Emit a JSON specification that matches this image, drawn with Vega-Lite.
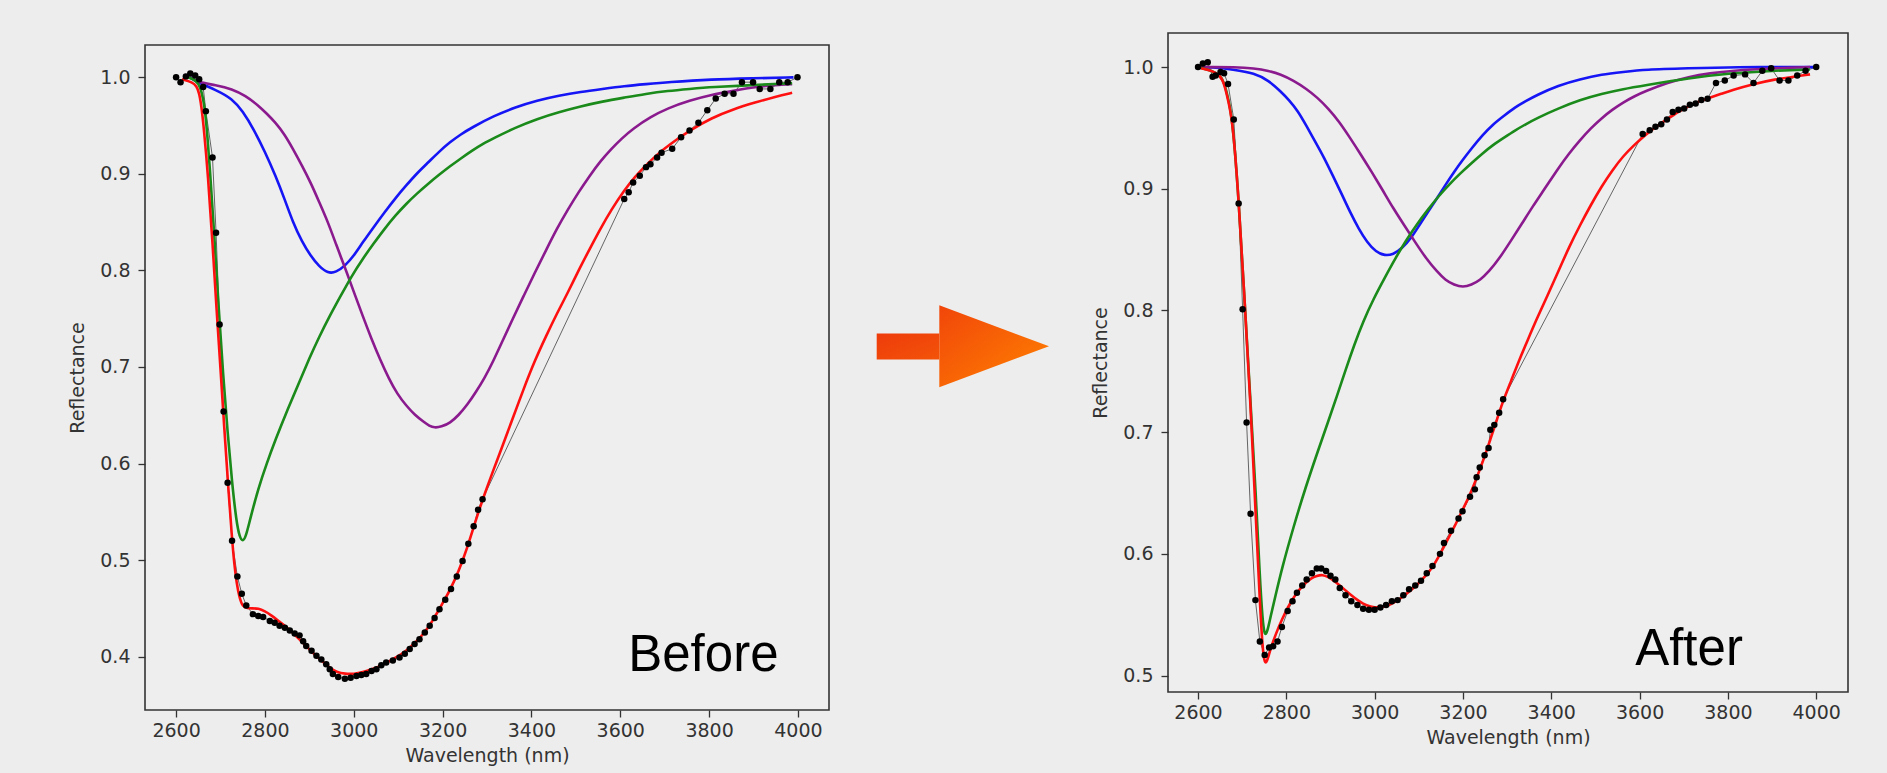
{
"$schema": "https://vega.github.io/schema/vega-lite/v6.json",
"background": "#ededed",
"padding": {"left": 67, "top": 32, "right": 40, "bottom": 20},
"spacing": 30,
"config": {
  "view": {"stroke": "#333333", "strokeWidth": 1.6, "fill": "#eeeeee"},
  "axis": {"domain": false, "grid": false, "tickColor": "#333333", "tickSize": 7, "tickWidth": 1.3, "labelFont": "DejaVu Sans", "labelFontSize": 19, "labelColor": "#333333", "titleFont": "DejaVu Sans", "titleFontSize": 19, "titleFontWeight": "normal", "titleColor": "#333333"},
  "axisX": {"labelPadding": 4, "titlePadding": 6},
  "axisY": {"labelPadding": 8, "titlePadding": 12}
},
"datasets": {
  "bData": [
    {"x":2600,"y":1.000},{"x":2610,"y":0.995},{"x":2622,"y":1.001},{"x":2632,"y":1.004},{"x":2643,"y":1.002},{"x":2652,"y":0.998},{"x":2661,"y":0.990},{"x":2667,"y":0.965},{"x":2682,"y":0.917},{"x":2690,"y":0.839},{"x":2698,"y":0.744},{"x":2707,"y":0.654},{"x":2716,"y":0.580},{"x":2726,"y":0.520},{"x":2738,"y":0.483},{"x":2748,"y":0.465},{"x":2758,"y":0.453},{"x":2773,"y":0.444},{"x":2785,"y":0.442},{"x":2796,"y":0.441},{"x":2811,"y":0.437},{"x":2822,"y":0.435},{"x":2833,"y":0.432},{"x":2845,"y":0.430},{"x":2856,"y":0.427},{"x":2867,"y":0.424},{"x":2878,"y":0.422},{"x":2886,"y":0.416},{"x":2893,"y":0.411},{"x":2905,"y":0.406},{"x":2916,"y":0.401},{"x":2927,"y":0.397},{"x":2938,"y":0.392},{"x":2946,"y":0.387},{"x":2953,"y":0.382},{"x":2965,"y":0.379},{"x":2980,"y":0.377},{"x":2993,"y":0.378},{"x":3006,"y":0.380},{"x":3017,"y":0.381},{"x":3028,"y":0.382},{"x":3040,"y":0.385},{"x":3051,"y":0.387},{"x":3062,"y":0.391},{"x":3073,"y":0.394},{"x":3088,"y":0.396},{"x":3103,"y":0.399},{"x":3115,"y":0.403},{"x":3126,"y":0.408},{"x":3137,"y":0.413},{"x":3148,"y":0.418},{"x":3160,"y":0.425},{"x":3171,"y":0.432},{"x":3182,"y":0.440},{"x":3193,"y":0.449},{"x":3206,"y":0.459},{"x":3219,"y":0.470},{"x":3232,"y":0.483},{"x":3245,"y":0.499},{"x":3258,"y":0.517},{"x":3270,"y":0.535},{"x":3280,"y":0.552},{"x":3290,"y":0.563},
    {"x":3609,"y":0.874},{"x":3619,"y":0.881},{"x":3629,"y":0.891},{"x":3644,"y":0.898},{"x":3658,"y":0.907},{"x":3668,"y":0.910},{"x":3683,"y":0.917},{"x":3693,"y":0.922},{"x":3717,"y":0.926},{"x":3737,"y":0.938},{"x":3756,"y":0.945},{"x":3776,"y":0.953},{"x":3796,"y":0.966},{"x":3815,"y":0.978},{"x":3835,"y":0.983},{"x":3855,"y":0.983},{"x":3874,"y":0.995},{"x":3899,"y":0.995},{"x":3914,"y":0.988},{"x":3938,"y":0.988},{"x":3958,"y":0.995},{"x":3977,"y":0.995},{"x":3999,"y":1.000}
  ],
  "bFit": [
    {"s":"blue","x":2632,"y":1.000},{"s":"blue","x":2647,"y":0.995},{"s":"blue","x":2690,"y":0.987},{"s":"blue","x":2726,"y":0.978},{"s":"blue","x":2750,"y":0.965},{"s":"blue","x":2775,"y":0.946},{"s":"blue","x":2800,"y":0.923},{"s":"blue","x":2824,"y":0.898},{"s":"blue","x":2845,"y":0.873},{"s":"blue","x":2863,"y":0.850},{"s":"blue","x":2883,"y":0.830},{"s":"blue","x":2903,"y":0.815},{"s":"blue","x":2922,"y":0.804},{"s":"blue","x":2942,"y":0.797},{"s":"blue","x":2960,"y":0.798},{"s":"blue","x":2981,"y":0.805},{"s":"blue","x":3000,"y":0.815},{"s":"blue","x":3020,"y":0.829},{"s":"blue","x":3045,"y":0.845},{"s":"blue","x":3069,"y":0.860},{"s":"blue","x":3094,"y":0.875},{"s":"blue","x":3118,"y":0.888},{"s":"blue","x":3143,"y":0.901},{"s":"blue","x":3168,"y":0.912},{"s":"blue","x":3192,"y":0.923},{"s":"blue","x":3217,"y":0.933},{"s":"blue","x":3241,"y":0.941},{"s":"blue","x":3266,"y":0.948},{"s":"blue","x":3315,"y":0.960},{"s":"blue","x":3364,"y":0.969},{"s":"blue","x":3413,"y":0.976},{"s":"blue","x":3462,"y":0.981},{"s":"blue","x":3511,"y":0.985},{"s":"blue","x":3560,"y":0.988},{"s":"blue","x":3609,"y":0.991},{"s":"blue","x":3658,"y":0.993},{"s":"blue","x":3707,"y":0.995},{"s":"blue","x":3806,"y":0.998},{"s":"blue","x":3900,"y":0.999},{"s":"blue","x":3990,"y":1.000},
    {"s":"purple","x":2632,"y":1.000},{"s":"purple","x":2647,"y":0.995},{"s":"purple","x":2690,"y":0.992},{"s":"purple","x":2726,"y":0.988},{"s":"purple","x":2756,"y":0.981},{"s":"purple","x":2785,"y":0.971},{"s":"purple","x":2805,"y":0.962},{"s":"purple","x":2824,"y":0.953},{"s":"purple","x":2844,"y":0.941},{"s":"purple","x":2863,"y":0.926},{"s":"purple","x":2883,"y":0.909},{"s":"purple","x":2903,"y":0.891},{"s":"purple","x":2922,"y":0.871},{"s":"purple","x":2942,"y":0.850},{"s":"purple","x":2961,"y":0.826},{"s":"purple","x":2981,"y":0.802},{"s":"purple","x":3000,"y":0.778},{"s":"purple","x":3020,"y":0.753},{"s":"purple","x":3040,"y":0.729},{"s":"purple","x":3060,"y":0.707},{"s":"purple","x":3079,"y":0.688},{"s":"purple","x":3098,"y":0.672},{"s":"purple","x":3118,"y":0.660},{"s":"purple","x":3138,"y":0.650},{"s":"purple","x":3158,"y":0.643},{"s":"purple","x":3170,"y":0.639},{"s":"purple","x":3182,"y":0.637},{"s":"purple","x":3197,"y":0.638},{"s":"purple","x":3217,"y":0.642},{"s":"purple","x":3236,"y":0.650},{"s":"purple","x":3256,"y":0.661},{"s":"purple","x":3275,"y":0.674},{"s":"purple","x":3295,"y":0.689},{"s":"purple","x":3314,"y":0.706},{"s":"purple","x":3334,"y":0.726},{"s":"purple","x":3358,"y":0.750},{"s":"purple","x":3383,"y":0.774},{"s":"purple","x":3408,"y":0.798},{"s":"purple","x":3433,"y":0.821},{"s":"purple","x":3457,"y":0.843},{"s":"purple","x":3482,"y":0.863},{"s":"purple","x":3506,"y":0.881},{"s":"purple","x":3531,"y":0.898},{"s":"purple","x":3555,"y":0.913},{"s":"purple","x":3580,"y":0.926},{"s":"purple","x":3604,"y":0.937},{"s":"purple","x":3629,"y":0.947},{"s":"purple","x":3668,"y":0.959},{"s":"purple","x":3707,"y":0.968},{"s":"purple","x":3756,"y":0.976},{"s":"purple","x":3806,"y":0.982},{"s":"purple","x":3855,"y":0.986},{"s":"purple","x":3904,"y":0.990},{"s":"purple","x":3950,"y":0.992},{"s":"purple","x":3987,"y":0.993},
    {"s":"green","x":2627,"y":1.000},{"s":"green","x":2645,"y":0.997},{"s":"green","x":2655,"y":0.990},{"s":"green","x":2662,"y":0.975},{"s":"green","x":2667,"y":0.960},{"s":"green","x":2677,"y":0.900},{"s":"green","x":2687,"y":0.829},{"s":"green","x":2696,"y":0.760},{"s":"green","x":2706,"y":0.691},{"s":"green","x":2716,"y":0.632},{"s":"green","x":2726,"y":0.580},{"s":"green","x":2736,"y":0.539},{"s":"green","x":2743,"y":0.524},{"s":"green","x":2750,"y":0.519},{"s":"green","x":2757,"y":0.524},{"s":"green","x":2767,"y":0.543},{"s":"green","x":2785,"y":0.574},{"s":"green","x":2804,"y":0.600},{"s":"green","x":2824,"y":0.625},{"s":"green","x":2850,"y":0.655},{"s":"green","x":2878,"y":0.685},{"s":"green","x":2900,"y":0.709},{"s":"green","x":2922,"y":0.731},{"s":"green","x":2946,"y":0.753},{"s":"green","x":2971,"y":0.774},{"s":"green","x":2995,"y":0.794},{"s":"green","x":3020,"y":0.812},{"s":"green","x":3045,"y":0.828},{"s":"green","x":3069,"y":0.843},{"s":"green","x":3094,"y":0.857},{"s":"green","x":3118,"y":0.869},{"s":"green","x":3143,"y":0.880},{"s":"green","x":3168,"y":0.890},{"s":"green","x":3192,"y":0.899},{"s":"green","x":3217,"y":0.908},{"s":"green","x":3241,"y":0.916},{"s":"green","x":3266,"y":0.924},{"s":"green","x":3290,"y":0.931},{"s":"green","x":3315,"y":0.937},{"s":"green","x":3364,"y":0.948},{"s":"green","x":3413,"y":0.957},{"s":"green","x":3462,"y":0.964},{"s":"green","x":3511,"y":0.970},{"s":"green","x":3560,"y":0.975},{"s":"green","x":3609,"y":0.979},{"s":"green","x":3658,"y":0.983},{"s":"green","x":3707,"y":0.986},{"s":"green","x":3756,"y":0.988},{"s":"green","x":3806,"y":0.990},{"s":"green","x":3900,"y":0.992},{"s":"green","x":3987,"y":0.994},
    {"s":"red","x":2613,"y":0.998},{"s":"red","x":2637,"y":0.995},{"s":"red","x":2646,"y":0.991},{"s":"red","x":2652,"y":0.984},{"s":"red","x":2657,"y":0.970},{"s":"red","x":2662,"y":0.950},{"s":"red","x":2672,"y":0.898},{"s":"red","x":2682,"y":0.829},{"s":"red","x":2691,"y":0.760},{"s":"red","x":2701,"y":0.691},{"s":"red","x":2708,"y":0.640},{"s":"red","x":2716,"y":0.585},{"s":"red","x":2726,"y":0.521},{"s":"red","x":2731,"y":0.496},{"s":"red","x":2736,"y":0.477},{"s":"red","x":2743,"y":0.460},{"s":"red","x":2750,"y":0.452},{"s":"red","x":2760,"y":0.450},{"s":"red","x":2772,"y":0.450},{"s":"red","x":2785,"y":0.450},{"s":"red","x":2800,"y":0.447},{"s":"red","x":2814,"y":0.443},{"s":"red","x":2833,"y":0.436},{"s":"red","x":2853,"y":0.429},{"s":"red","x":2873,"y":0.420},{"s":"red","x":2893,"y":0.411},{"s":"red","x":2912,"y":0.402},{"s":"red","x":2932,"y":0.394},{"s":"red","x":2947,"y":0.388},{"s":"red","x":2961,"y":0.384},{"s":"red","x":2981,"y":0.382},{"s":"red","x":3001,"y":0.382},{"s":"red","x":3020,"y":0.384},{"s":"red","x":3040,"y":0.387},{"s":"red","x":3060,"y":0.390},{"s":"red","x":3079,"y":0.395},{"s":"red","x":3099,"y":0.400},{"s":"red","x":3118,"y":0.406},{"s":"red","x":3138,"y":0.414},{"s":"red","x":3158,"y":0.424},{"s":"red","x":3178,"y":0.437},{"s":"red","x":3197,"y":0.453},{"s":"red","x":3216,"y":0.468},{"s":"red","x":3236,"y":0.488},{"s":"red","x":3256,"y":0.513},{"s":"red","x":3275,"y":0.542},{"s":"red","x":3295,"y":0.569},{"s":"red","x":3315,"y":0.594},{"s":"red","x":3334,"y":0.617},{"s":"red","x":3354,"y":0.642},{"s":"red","x":3383,"y":0.678},{"s":"red","x":3408,"y":0.707},{"s":"red","x":3433,"y":0.732},{"s":"red","x":3457,"y":0.755},{"s":"red","x":3482,"y":0.777},{"s":"red","x":3506,"y":0.800},{"s":"red","x":3531,"y":0.822},{"s":"red","x":3555,"y":0.843},{"s":"red","x":3580,"y":0.863},{"s":"red","x":3609,"y":0.883},{"s":"red","x":3633,"y":0.897},{"s":"red","x":3658,"y":0.909},{"s":"red","x":3683,"y":0.920},{"s":"red","x":3707,"y":0.929},{"s":"red","x":3756,"y":0.945},{"s":"red","x":3806,"y":0.958},{"s":"red","x":3855,"y":0.967},{"s":"red","x":3904,"y":0.974},{"s":"red","x":3950,"y":0.980},{"s":"red","x":3987,"y":0.984}
  ],
  "aData": [
    {"x":2600,"y":1.000},{"x":2611,"y":1.003},{"x":2622,"y":1.004},{"x":2633,"y":0.992},{"x":2640,"y":0.993},{"x":2651,"y":0.996},{"x":2659,"y":0.995},{"x":2668,"y":0.986},{"x":2681,"y":0.957},{"x":2692,"y":0.888},{"x":2701,"y":0.801},{"x":2710,"y":0.708},{"x":2719,"y":0.633},{"x":2730,"y":0.562},{"x":2740,"y":0.528},{"x":2751,"y":0.517},{"x":2761,"y":0.523},{"x":2770,"y":0.524},{"x":2780,"y":0.528},{"x":2790,"y":0.540},{"x":2803,"y":0.553},{"x":2814,"y":0.561},{"x":2824,"y":0.568},{"x":2836,"y":0.574},{"x":2846,"y":0.579},{"x":2858,"y":0.584},{"x":2869,"y":0.588},{"x":2879,"y":0.588},{"x":2890,"y":0.586},{"x":2900,"y":0.582},{"x":2911,"y":0.579},{"x":2921,"y":0.572},{"x":2934,"y":0.566},{"x":2947,"y":0.561},{"x":2961,"y":0.558},{"x":2974,"y":0.555},{"x":2987,"y":0.554},{"x":3000,"y":0.554},{"x":3013,"y":0.556},{"x":3026,"y":0.558},{"x":3039,"y":0.561},{"x":3052,"y":0.562},{"x":3065,"y":0.566},{"x":3078,"y":0.571},{"x":3092,"y":0.574},{"x":3105,"y":0.578},{"x":3118,"y":0.584},{"x":3131,"y":0.590},{"x":3148,"y":0.600},{"x":3157,"y":0.609},{"x":3173,"y":0.619},{"x":3190,"y":0.629},{"x":3199,"y":0.635},{"x":3216,"y":0.647},{"x":3227,"y":0.653},{"x":3231,"y":0.663},{"x":3238,"y":0.671},{"x":3249,"y":0.681},{"x":3258,"y":0.687},{"x":3262,"y":0.702},{"x":3271,"y":0.706},{"x":3282,"y":0.716},{"x":3291,"y":0.727},
    {"x":3607,"y":0.945},{"x":3623,"y":0.948},{"x":3636,"y":0.951},{"x":3649,"y":0.953},{"x":3662,"y":0.957},{"x":3675,"y":0.963},{"x":3688,"y":0.965},{"x":3701,"y":0.966},{"x":3714,"y":0.969},{"x":3727,"y":0.970},{"x":3740,"y":0.973},{"x":3754,"y":0.974},{"x":3773,"y":0.987},{"x":3793,"y":0.989},{"x":3813,"y":0.993},{"x":3839,"y":0.994},{"x":3858,"y":0.987},{"x":3878,"y":0.997},{"x":3898,"y":0.999},{"x":3917,"y":0.989},{"x":3937,"y":0.989},{"x":3957,"y":0.993},{"x":3976,"y":0.997},{"x":4000,"y":1.000}
  ],
  "aFit": [
    {"s":"blue","x":2600,"y":1.000},{"s":"blue","x":2630,"y":1.000},{"s":"blue","x":2680,"y":0.998},{"s":"blue","x":2728,"y":0.995},{"s":"blue","x":2760,"y":0.989},{"s":"blue","x":2787,"y":0.980},{"s":"blue","x":2806,"y":0.973},{"s":"blue","x":2826,"y":0.964},{"s":"blue","x":2845,"y":0.952},{"s":"blue","x":2865,"y":0.939},{"s":"blue","x":2885,"y":0.926},{"s":"blue","x":2905,"y":0.911},{"s":"blue","x":2925,"y":0.896},{"s":"blue","x":2944,"y":0.881},{"s":"blue","x":2964,"y":0.867},{"s":"blue","x":2983,"y":0.856},{"s":"blue","x":3003,"y":0.848},{"s":"blue","x":3023,"y":0.845},{"s":"blue","x":3042,"y":0.846},{"s":"blue","x":3062,"y":0.851},{"s":"blue","x":3082,"y":0.859},{"s":"blue","x":3101,"y":0.870},{"s":"blue","x":3121,"y":0.881},{"s":"blue","x":3141,"y":0.892},{"s":"blue","x":3160,"y":0.903},{"s":"blue","x":3180,"y":0.914},{"s":"blue","x":3200,"y":0.924},{"s":"blue","x":3219,"y":0.933},{"s":"blue","x":3244,"y":0.944},{"s":"blue","x":3268,"y":0.953},{"s":"blue","x":3293,"y":0.960},{"s":"blue","x":3318,"y":0.967},{"s":"blue","x":3342,"y":0.972},{"s":"blue","x":3367,"y":0.977},{"s":"blue","x":3416,"y":0.985},{"s":"blue","x":3465,"y":0.990},{"s":"blue","x":3514,"y":0.994},{"s":"blue","x":3563,"y":0.996},{"s":"blue","x":3612,"y":0.998},{"s":"blue","x":3711,"y":0.999},{"s":"blue","x":3809,"y":1.000},{"s":"blue","x":3996,"y":1.000},
    {"s":"purple","x":2600,"y":1.000},{"s":"purple","x":2630,"y":1.000},{"s":"purple","x":2680,"y":1.000},{"s":"purple","x":2728,"y":0.999},{"s":"purple","x":2760,"y":0.997},{"s":"purple","x":2787,"y":0.994},{"s":"purple","x":2816,"y":0.989},{"s":"purple","x":2846,"y":0.982},{"s":"purple","x":2870,"y":0.975},{"s":"purple","x":2895,"y":0.966},{"s":"purple","x":2920,"y":0.955},{"s":"purple","x":2944,"y":0.942},{"s":"purple","x":2969,"y":0.928},{"s":"purple","x":2993,"y":0.914},{"s":"purple","x":3018,"y":0.899},{"s":"purple","x":3042,"y":0.884},{"s":"purple","x":3067,"y":0.870},{"s":"purple","x":3092,"y":0.856},{"s":"purple","x":3116,"y":0.843},{"s":"purple","x":3141,"y":0.832},{"s":"purple","x":3160,"y":0.825},{"s":"purple","x":3180,"y":0.821},{"s":"purple","x":3200,"y":0.819},{"s":"purple","x":3219,"y":0.821},{"s":"purple","x":3239,"y":0.825},{"s":"purple","x":3259,"y":0.832},{"s":"purple","x":3283,"y":0.843},{"s":"purple","x":3308,"y":0.857},{"s":"purple","x":3333,"y":0.871},{"s":"purple","x":3357,"y":0.885},{"s":"purple","x":3387,"y":0.901},{"s":"purple","x":3416,"y":0.917},{"s":"purple","x":3440,"y":0.929},{"s":"purple","x":3465,"y":0.940},{"s":"purple","x":3490,"y":0.950},{"s":"purple","x":3514,"y":0.958},{"s":"purple","x":3538,"y":0.965},{"s":"purple","x":3563,"y":0.971},{"s":"purple","x":3588,"y":0.976},{"s":"purple","x":3612,"y":0.980},{"s":"purple","x":3662,"y":0.987},{"s":"purple","x":3711,"y":0.992},{"s":"purple","x":3760,"y":0.995},{"s":"purple","x":3809,"y":0.997},{"s":"purple","x":3900,"y":0.999},{"s":"purple","x":3986,"y":1.000},
    {"s":"green","x":2600,"y":1.000},{"s":"green","x":2633,"y":0.997},{"s":"green","x":2650,"y":0.993},{"s":"green","x":2659,"y":0.988},{"s":"green","x":2670,"y":0.972},{"s":"green","x":2679,"y":0.953},{"s":"green","x":2692,"y":0.892},{"s":"green","x":2705,"y":0.811},{"s":"green","x":2718,"y":0.730},{"s":"green","x":2731,"y":0.649},{"s":"green","x":2740,"y":0.580},{"s":"green","x":2746,"y":0.546},{"s":"green","x":2751,"y":0.532},{"s":"green","x":2757,"y":0.536},{"s":"green","x":2764,"y":0.548},{"s":"green","x":2777,"y":0.568},{"s":"green","x":2790,"y":0.588},{"s":"green","x":2816,"y":0.622},{"s":"green","x":2843,"y":0.654},{"s":"green","x":2870,"y":0.683},{"s":"green","x":2895,"y":0.709},{"s":"green","x":2915,"y":0.730},{"s":"green","x":2934,"y":0.751},{"s":"green","x":2954,"y":0.772},{"s":"green","x":2974,"y":0.791},{"s":"green","x":2998,"y":0.810},{"s":"green","x":3023,"y":0.827},{"s":"green","x":3047,"y":0.843},{"s":"green","x":3072,"y":0.858},{"s":"green","x":3096,"y":0.871},{"s":"green","x":3121,"y":0.883},{"s":"green","x":3145,"y":0.894},{"s":"green","x":3170,"y":0.904},{"s":"green","x":3195,"y":0.913},{"s":"green","x":3219,"y":0.921},{"s":"green","x":3244,"y":0.929},{"s":"green","x":3268,"y":0.936},{"s":"green","x":3293,"y":0.942},{"s":"green","x":3318,"y":0.948},{"s":"green","x":3342,"y":0.953},{"s":"green","x":3367,"y":0.958},{"s":"green","x":3416,"y":0.966},{"s":"green","x":3465,"y":0.973},{"s":"green","x":3514,"y":0.978},{"s":"green","x":3563,"y":0.982},{"s":"green","x":3612,"y":0.985},{"s":"green","x":3711,"y":0.991},{"s":"green","x":3809,"y":0.995},{"s":"green","x":3900,"y":0.997},{"s":"green","x":3986,"y":0.998},
    {"s":"red","x":2607,"y":0.999},{"s":"red","x":2633,"y":0.997},{"s":"red","x":2650,"y":0.993},{"s":"red","x":2659,"y":0.987},{"s":"red","x":2670,"y":0.970},{"s":"red","x":2679,"y":0.953},{"s":"red","x":2692,"y":0.892},{"s":"red","x":2705,"y":0.811},{"s":"red","x":2718,"y":0.730},{"s":"red","x":2731,"y":0.629},{"s":"red","x":2740,"y":0.560},{"s":"red","x":2746,"y":0.523},{"s":"red","x":2751,"y":0.509},{"s":"red","x":2757,"y":0.512},{"s":"red","x":2764,"y":0.522},{"s":"red","x":2777,"y":0.535},{"s":"red","x":2790,"y":0.546},{"s":"red","x":2803,"y":0.556},{"s":"red","x":2816,"y":0.564},{"s":"red","x":2830,"y":0.571},{"s":"red","x":2843,"y":0.576},{"s":"red","x":2856,"y":0.580},{"s":"red","x":2869,"y":0.582},{"s":"red","x":2882,"y":0.583},{"s":"red","x":2895,"y":0.581},{"s":"red","x":2908,"y":0.578},{"s":"red","x":2921,"y":0.574},{"s":"red","x":2934,"y":0.570},{"s":"red","x":2947,"y":0.566},{"s":"red","x":2961,"y":0.562},{"s":"red","x":2974,"y":0.559},{"s":"red","x":2987,"y":0.557},{"s":"red","x":3000,"y":0.556},{"s":"red","x":3013,"y":0.556},{"s":"red","x":3026,"y":0.557},{"s":"red","x":3039,"y":0.559},{"s":"red","x":3052,"y":0.562},{"s":"red","x":3065,"y":0.565},{"s":"red","x":3078,"y":0.569},{"s":"red","x":3092,"y":0.573},{"s":"red","x":3105,"y":0.578},{"s":"red","x":3118,"y":0.583},{"s":"red","x":3131,"y":0.589},{"s":"red","x":3144,"y":0.597},{"s":"red","x":3157,"y":0.606},{"s":"red","x":3170,"y":0.615},{"s":"red","x":3183,"y":0.624},{"s":"red","x":3196,"y":0.634},{"s":"red","x":3210,"y":0.644},{"s":"red","x":3223,"y":0.655},{"s":"red","x":3236,"y":0.667},{"s":"red","x":3249,"y":0.680},{"s":"red","x":3262,"y":0.694},{"s":"red","x":3275,"y":0.708},{"s":"red","x":3288,"y":0.723},{"s":"red","x":3310,"y":0.743},{"s":"red","x":3327,"y":0.759},{"s":"red","x":3347,"y":0.776},{"s":"red","x":3367,"y":0.793},{"s":"red","x":3391,"y":0.812},{"s":"red","x":3416,"y":0.832},{"s":"red","x":3440,"y":0.852},{"s":"red","x":3465,"y":0.870},{"s":"red","x":3490,"y":0.887},{"s":"red","x":3514,"y":0.902},{"s":"red","x":3538,"y":0.915},{"s":"red","x":3563,"y":0.927},{"s":"red","x":3588,"y":0.936},{"s":"red","x":3612,"y":0.944},{"s":"red","x":3637,"y":0.951},{"s":"red","x":3662,"y":0.957},{"s":"red","x":3686,"y":0.963},{"s":"red","x":3711,"y":0.968},{"s":"red","x":3735,"y":0.972},{"s":"red","x":3760,"y":0.975},{"s":"red","x":3785,"y":0.978},{"s":"red","x":3809,"y":0.981},{"s":"red","x":3858,"y":0.986},{"s":"red","x":3907,"y":0.990},{"s":"red","x":3950,"y":0.992},{"s":"red","x":3986,"y":0.994}
  ]
},
"hconcat": [
  {
    "spacing": 0,
    "vconcat": [
      {"width": 684, "height": 11, "view": {"stroke": null, "fill": null}, "data": {"values": []}, "mark": "rect"},
      {
        "width": 684, "height": 665,
        "encoding": {
          "x": {"field": "x", "type": "quantitative", "scale": {"domain": [2530, 4070], "nice": false, "zero": false}, "axis": {"title": "Wavelength (nm)", "values": [2600,2800,3000,3200,3400,3600,3800,4000], "format": "d"}},
          "y": {"field": "y", "type": "quantitative", "scale": {"domain": [0.3447, 1.0335], "nice": false, "zero": false}, "axis": {"title": "Reflectance", "values": [0.4,0.5,0.6,0.7,0.8,0.9,1.0], "format": ".1f"}}
        },
        "layer": [
          {"data": {"name": "bData"}, "mark": {"type": "line", "color": "#555555", "strokeWidth": 0.9}},
          {"data": {"name": "bFit"}, "mark": {"type": "line", "strokeWidth": 2.6, "interpolate": "basis"}, "encoding": {"color": {"field": "s", "type": "nominal", "scale": {"domain": ["blue","purple","green","red"], "range": ["#1515f5","#8a1a8e","#1a8a1a","#ff1010"]}, "legend": null}}},
          {"data": {"name": "bData"}, "mark": {"type": "point", "filled": true, "color": "#000000", "size": 42, "opacity": 1}},
          {"data": {"values": [{"x": 3618, "y": 0.3855, "label": "Before"}]}, "mark": {"type": "text", "align": "left", "baseline": "alphabetic", "font": "Liberation Sans", "fontSize": 51, "color": "#000000"}, "encoding": {"text": {"field": "label"}}}
        ]
      }
    ]
  },
  {
    "width": 200, "height": 659,
    "view": {"stroke": null, "fill": null},
    "layer": [
      {"data": {"values": [{"x": 0.0835, "x2": 0.3965, "y": 0.5439, "y2": 0.5044}]},
       "mark": {"type": "rect", "color": {"gradient": "linear", "x1": 0, "y1": 0, "x2": 1, "y2": 1, "stops": [{"offset": 0, "color": "#ee3b0b"}, {"offset": 1, "color": "#f35409"}]}},
       "encoding": {"x": {"field": "x", "type": "quantitative", "scale": {"domain": [0, 1], "nice": false}, "axis": null}, "x2": {"field": "x2"}, "y": {"field": "y", "type": "quantitative", "scale": {"domain": [0, 1], "nice": false}, "axis": null}, "y2": {"field": "y2"}}},
      {"data": {"values": [{"x": 0.3965, "y": 0.5868, "y2": 0.4624}, {"x": 0.945, "y": 0.5246, "y2": 0.5246}]},
       "mark": {"type": "area", "color": {"gradient": "linear", "x1": 0, "y1": 0, "x2": 1, "y2": 1, "stops": [{"offset": 0, "color": "#f1460a"}, {"offset": 1, "color": "#ff8200"}]}},
       "encoding": {"x": {"field": "x", "type": "quantitative", "scale": {"domain": [0, 1], "nice": false}, "axis": null}, "y": {"field": "y", "type": "quantitative", "scale": {"domain": [0, 1], "nice": false}, "axis": null}, "y2": {"field": "y2"}}}
    ]
  },
  {
    "width": 680, "height": 659,
    "encoding": {
      "x": {"field": "x", "type": "quantitative", "scale": {"domain": [2532, 4072], "nice": false, "zero": false}, "axis": {"title": "Wavelength (nm)", "values": [2600,2800,3000,3200,3400,3600,3800,4000], "format": "d"}},
      "y": {"field": "y", "type": "quantitative", "scale": {"domain": [0.4865, 1.028], "nice": false, "zero": false}, "axis": {"title": "Reflectance", "values": [0.5,0.6,0.7,0.8,0.9,1.0], "format": ".1f"}}
    },
    "layer": [
      {"data": {"name": "aData"}, "mark": {"type": "line", "color": "#555555", "strokeWidth": 0.9}},
      {"data": {"name": "aFit"}, "mark": {"type": "line", "strokeWidth": 2.6, "interpolate": "basis"}, "encoding": {"color": {"field": "s", "type": "nominal", "scale": {"domain": ["blue","purple","green","red"], "range": ["#1515f5","#8a1a8e","#1a8a1a","#ff1010"]}, "legend": null}}},
      {"data": {"name": "aData"}, "mark": {"type": "point", "filled": true, "color": "#000000", "size": 42, "opacity": 1}},
      {"data": {"values": [{"x": 3590, "y": 0.509, "label": "After"}]}, "mark": {"type": "text", "align": "left", "baseline": "alphabetic", "font": "Liberation Sans", "fontSize": 51, "color": "#000000"}, "encoding": {"text": {"field": "label"}}}
    ]
  }
]
}
